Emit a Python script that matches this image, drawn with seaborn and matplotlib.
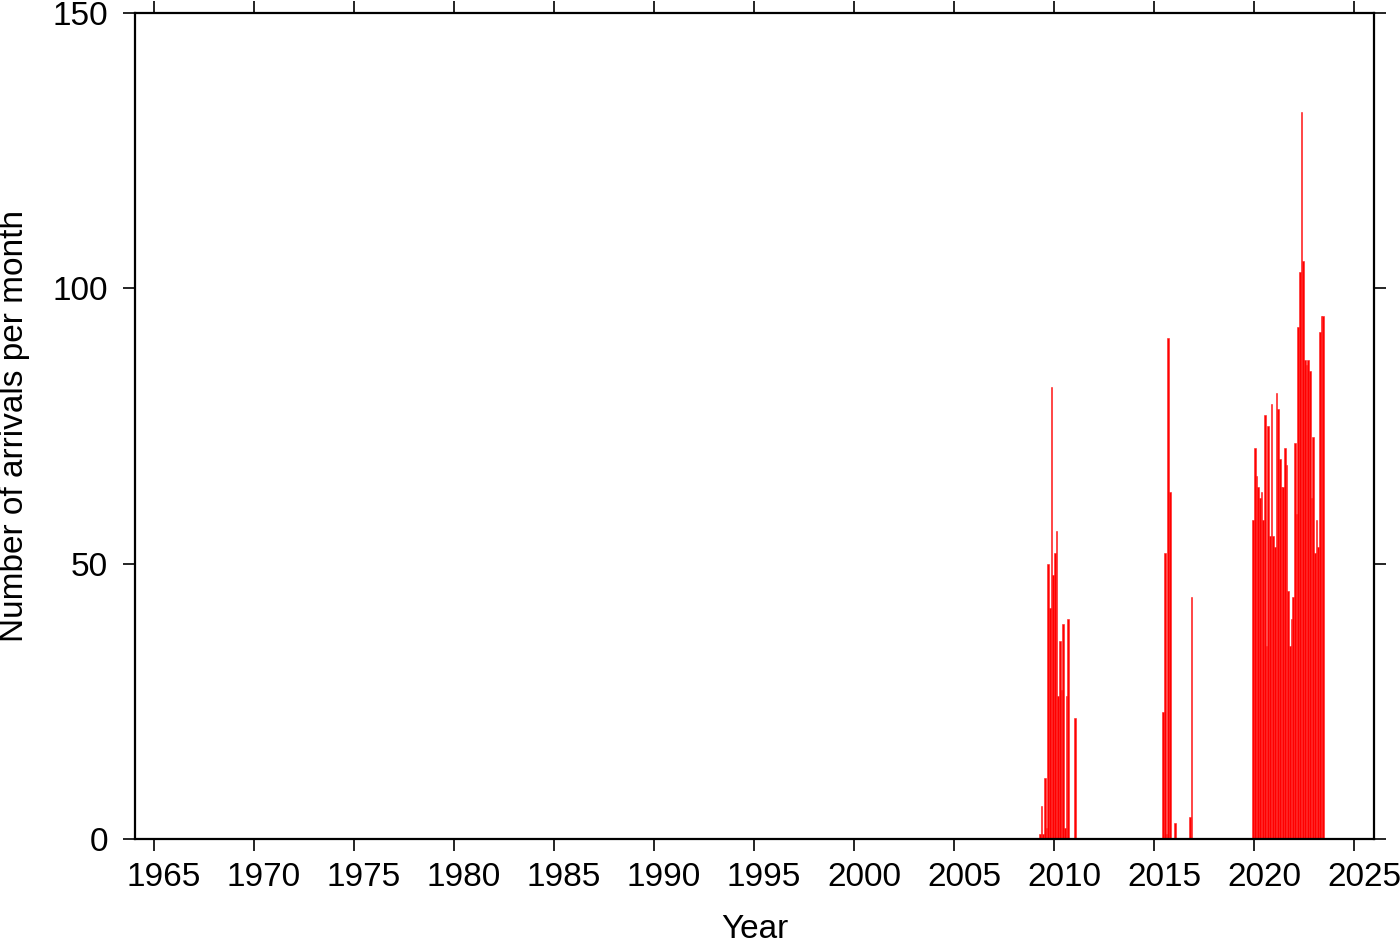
#Monthly arrivals histogram (GMT style) with seaborn

import numpy as np
import pandas as pd
import matplotlib.pyplot as plt
import matplotlib.transforms as mtrans
import seaborn as sea

#Monthly counts, one list per active period
#(first month of each list given as year, month)
start_2009 = (2009, 4)
counts_2009 = [1, 6, 1, 11, 2, 50, 42, 82, 48, 52, 56, 26, 36, 27, 39, 2, 26, 40, 0, 0, 0, 22]

start_2015 = (2015, 6)
counts_2015 = [23, 52, 1, 91, 63, 0, 0, 3, 0, 0, 0, 0, 0, 0, 0, 0, 4, 44]

start_2020 = (2019, 12)
counts_2020 = [58, 71, 66, 64, 62, 63, 58, 77, 35, 75, 55, 79, 55, 53, 81, 78, 69, 64,
               64, 71, 68, 45, 35, 40, 44, 72, 59, 93, 103, 132, 105, 87, 86, 87, 85,
               62, 73, 52, 58, 53, 92, 95, 95]

year_ticks = list(range(1965, 2030, 5))
count_ticks = [0, 50, 100, 150]


def monthly_frame(start, counts):
    y, m = start
    rows = []
    for i, c in enumerate(counts):
        k = (m - 1) + i
        rows.append({"t": y + (k + 0.5) / 12.0, "n": c})
    return pd.DataFrame(rows)


df = pd.concat([monthly_frame(start_2009, counts_2009),
                monthly_frame(start_2015, counts_2015),
                monthly_frame(start_2020, counts_2020)], ignore_index=True)

sea.set_style("ticks")
plt.rcParams['font.family'] = ['Liberation Sans', 'DejaVu Sans']
plt.rcParams['text.color'] = 'black'
plt.rcParams['axes.labelcolor'] = 'black'
plt.rcParams['xtick.color'] = 'black'
plt.rcParams['ytick.color'] = 'black'

fig = plt.figure(figsize=(14, 9.42), dpi=100)
ax = fig.add_axes([0.0964, 0.1093, 0.885, 0.8769])

#one bin per month
sea.histplot(data=df, x="t", weights="n", binwidth=1 / 12.0, binrange=(2009, 2024),
             color="red", edgecolor="#ff2020", linewidth=0.4, alpha=1.0, ax=ax)

ax.set_xlim(1964.05, 2026)
ax.set_ylim(0, 150)
ax.set_xticks(year_ticks)
ax.set_yticks(count_ticks)

ax.tick_params(axis="both", which="major", direction="out", length=8.5, width=1.2,
               labelsize=24, top=True, right=True, labeltop=False, labelright=False,
               color="black", labelcolor="black")
ax.tick_params(axis="x", pad=8)
ax.tick_params(axis="y", pad=11)

#year labels sit a bit right of their ticks in the original
shift = mtrans.ScaledTranslation(10 / 100, 0, fig.dpi_scale_trans)
for lab in ax.get_xticklabels():
    lab.set_transform(lab.get_transform() + shift)

for s in ax.spines.values():
    s.set_visible(True)
    s.set_linewidth(1.6)
    s.set_color("black")

ax.set_xlabel("Year", fontsize=24, labelpad=15)
ax.set_ylabel("Number of arrivals per month", fontsize=24, labelpad=16)

fig.savefig("out.png", dpi=100)
